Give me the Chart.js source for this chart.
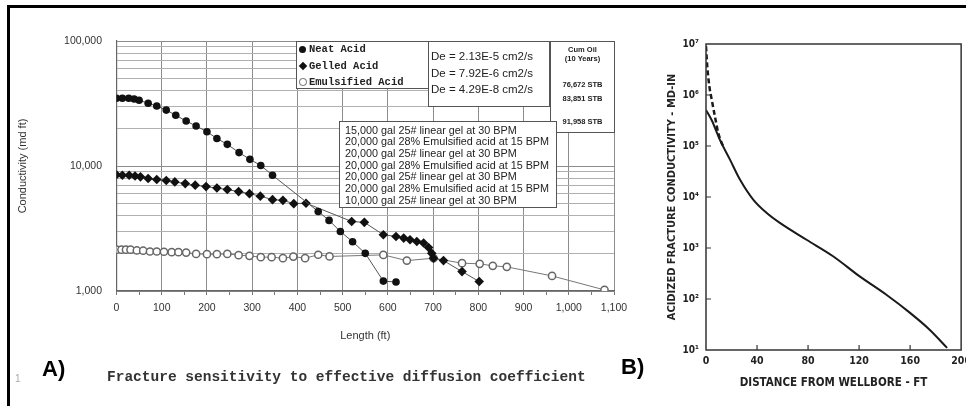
<!DOCTYPE html>
<html>
<head>
<meta charset="utf-8">
<script src="https://cdn.jsdelivr.net/npm/chart.js@4.4.0/dist/chart.umd.min.js"></script>
<style>
  html, body { margin: 0; padding: 0; background: #fff; }
  body { width: 966px; height: 406px; position: relative; overflow: hidden; font-family: "Liberation Sans", Arial, sans-serif; color: #222; }
  #frame { position: absolute; left: 7px; top: 5px; width: 1000px; height: 500px; border: 3px solid #000; }
  #chartA { position: absolute; left: 0; top: 0; }
  #chartB { position: absolute; left: 640px; top: 0; }
  .box { position: absolute; background: #fff; border: 1px solid #555; box-sizing: border-box; }
  .t { position: absolute; white-space: nowrap; line-height: 1; }
  .leg { font-family: "Liberation Mono", "DejaVu Sans Mono", monospace; font-weight: bold; font-size: 10.5px; color: #222; }
  .de { font-size: 11.5px; color: #222; }
  .cum { font-size: 7.5px; font-weight: bold; color: #222; text-align: center; width: 65px; left: 550px; }
  .pump { font-size: 10.8px; color: #222; left: 345px; }
  .mk { position: absolute; box-sizing: border-box; }
  #caption { left: 107px; top: 370px; font-family: "Liberation Mono", "DejaVu Sans Mono", monospace; font-weight: bold; font-size: 14.5px; color: #333; }
  .panel { font-weight: bold; font-size: 22px; color: #000; }
</style>
</head>
<body>
<div id="frame"></div>
<canvas id="chartA" width="640" height="406"></canvas>
<canvas id="chartB" width="336" height="406"></canvas>

<!-- legend -->
<div class="box" style="left:296px; top:41px; width:133px; height:48px;"></div>
<div class="mk" style="left:299px; top:45.5px; width:7px; height:7px; border-radius:50%; background:#111;"></div>
<div class="mk" style="left:299.5px; top:62.5px; width:6px; height:6px; background:#111; transform:rotate(45deg);"></div>
<div class="mk" style="left:299px; top:78px; width:7.5px; height:7.5px; border-radius:50%; border:1.5px solid #666; background:#fff;"></div>
<div class="t leg" style="left:309px; top:43.5px;">Neat Acid</div>
<div class="t leg" style="left:309px; top:60.5px;">Gelled Acid</div>
<div class="t leg" style="left:309px; top:76.5px;">Emulsified Acid</div>

<!-- diffusion coefficients -->
<div class="box" style="left:428px; top:41px; width:122px; height:66px;"></div>
<div class="t de" style="left:431px; top:51px;">De = 2.13E-5 cm2/s</div>
<div class="t de" style="left:431px; top:68px;">De = 7.92E-6 cm2/s</div>
<div class="t de" style="left:431px; top:84px;">De = 4.29E-8 cm2/s</div>

<!-- cumulative oil -->
<div class="box" style="left:550px; top:41px; width:65px; height:92px;"></div>
<div class="t cum" style="top:45.5px;">Cum Oil</div>
<div class="t cum" style="top:55px;">(10 Years)</div>
<div class="t cum" style="top:81px;">76,672 STB</div>
<div class="t cum" style="top:95px;">83,851 STB</div>
<div class="t cum" style="top:117.5px;">91,958 STB</div>

<!-- pumping schedule -->
<div class="box" style="left:339px; top:121px; width:218px; height:87px;"></div>
<div class="t pump" style="top:124.5px;">15,000 gal 25# linear gel at 30 BPM</div>
<div class="t pump" style="top:136.2px;">20,000 gal 28% Emulsified acid at 15 BPM</div>
<div class="t pump" style="top:147.9px;">20,000 gal 25# linear gel at 30 BPM</div>
<div class="t pump" style="top:159.6px;">20,000 gal 28% Emulsified acid at 15 BPM</div>
<div class="t pump" style="top:171.3px;">20,000 gal 25# linear gel at 30 BPM</div>
<div class="t pump" style="top:183px;">20,000 gal 28% Emulsified acid at 15 BPM</div>
<div class="t pump" style="top:194.7px;">10,000 gal 25# linear gel at 30 BPM</div>

<div class="t" style="left:15px; top:374px; font-size:10px; color:#aaa;">1</div>
<div class="t panel" style="left:42px; top:358px;">A)</div>
<div class="t panel" style="left:621px; top:355.5px;">B)</div>
<div class="t" id="caption">Fracture sensitivity to effective diffusion coefficient</div>

<script>
// ---- panel A: conductivity vs fracture length
const neatLength = [0, 13, 27, 39, 50, 70, 89, 110, 131, 154, 176, 200, 222, 245, 271, 295, 319, 345, 446, 470, 495, 522, 550, 590, 618];
const neatCond = [34800, 34800, 34800, 34400, 33600, 31800, 30200, 28000, 25500, 22900, 20900, 18800, 16600, 14900, 12800, 11300, 10100, 8430, 4330, 3670, 2990, 2480, 2000, 1200, 1180];

const gelledLength = [0, 13, 28, 41, 53, 70, 89, 110, 129, 152, 174, 198, 222, 245, 270, 294, 318, 345, 368, 392, 419, 520, 548, 590, 618, 635, 649, 664, 679, 690, 697, 701, 723, 764, 802];
const gelledCond = [8500, 8430, 8430, 8310, 8190, 7940, 7790, 7650, 7460, 7230, 7030, 6840, 6660, 6480, 6240, 6010, 5740, 5380, 5310, 5000, 5040, 3600, 3540, 2820, 2730, 2650, 2570, 2490, 2420, 2230, 2000, 1830, 1750, 1430, 1190];

const emulLength = [0, 11, 21, 31, 45, 59, 74, 89, 105, 122, 137, 154, 176, 200, 222, 245, 270, 294, 319, 343, 368, 391, 417, 446, 471, 590, 642, 701, 764, 803, 832, 863, 963, 1079];
const emulCond = [2140, 2140, 2140, 2140, 2110, 2100, 2070, 2070, 2060, 2045, 2045, 2030, 1980, 1970, 1970, 1980, 1935, 1910, 1865, 1865, 1830, 1885, 1830, 1950, 1890, 1945, 1750, 1830, 1670, 1650, 1590, 1560, 1320, 1020];

const xTicksA = [0, 100, 200, 300, 400, 500, 600, 700, 800, 900, 1000, 1100];
const yTicksA = [1000, 10000, 100000];

// ---- panel B: acidized fracture conductivity vs distance
const distSolid = [0, 4.5, 11, 18.8, 26.6, 37, 47.4, 57.9, 78.8, 99.6, 120.5, 141.4, 159.7, 175.3, 189];
const condSolid = [510000, 320000, 130000, 54000, 22000, 8900, 4900, 3100, 1450, 690, 277, 121, 54, 25, 11];
const distDash = [0, 1, 2.6, 4.5, 7, 9.6, 12.3, 13.5];
const condDash = [9000000, 3600000, 1500000, 810000, 380000, 180000, 115000, 100000];

const xTicksB = [0, 40, 80, 120, 160, 200];
const yTicksB = [10, 100, 1000, 10000, 100000, 1000000, 10000000];
const yTickLabelsB = ["10\u00B9", "10\u00B2", "10\u00B3", "10\u2074", "10\u2075", "10\u2076", "10\u2077"];

function toPoints(xs, ys) {
  return xs.map((x, i) => ({ x: x, y: ys[i] }));
}

const sansA = "'Liberation Sans', Arial, sans-serif";
const narrow = "'Liberation Sans Narrow', 'DejaVu Sans Condensed', 'Liberation Sans', sans-serif";

// log grid lines for panel A (1..9 per decade)
const yGridA = [];
for (let d = 1000; d < 100000; d *= 10) {
  for (let k = 1; k < 10; k++) yGridA.push(d * k);
}
yGridA.push(100000);

new Chart(document.getElementById("chartA"), {
  type: "line",
  data: {
    datasets: [
      {
        label: "Neat Acid",
        data: toPoints(neatLength, neatCond),
        borderColor: "#555",
        borderWidth: 1,
        pointStyle: "circle",
        pointRadius: 3.8,
        pointBackgroundColor: "#111",
        pointBorderColor: "#111",
        pointBorderWidth: 0
      },
      {
        label: "Gelled Acid",
        data: toPoints(gelledLength, gelledCond),
        borderColor: "#555",
        borderWidth: 1,
        pointStyle: "rectRot",
        pointRadius: 4.8,
        pointBackgroundColor: "#111",
        pointBorderColor: "#111",
        pointBorderWidth: 0
      },
      {
        label: "Emulsified Acid",
        data: toPoints(emulLength, emulCond),
        borderColor: "#777",
        borderWidth: 1,
        pointStyle: "circle",
        pointRadius: 3.6,
        pointBackgroundColor: "#fff",
        pointBorderColor: "#666",
        pointBorderWidth: 1.5
      }
    ]
  },
  options: {
    responsive: false,
    animation: false,
    layout: { padding: { left: 0, right: 26, top: 41, bottom: 63 } },
    plugins: { legend: { display: false }, tooltip: { enabled: false } },
    scales: {
      x: {
        type: "linear",
        min: 0,
        max: 1100,
        afterFit: s => { s.height = 52; },
        ticks: {
          stepSize: 50,
          autoSkip: false,
          maxRotation: 0,
          padding: 7,
          color: "#333",
          font: { family: sansA, size: 10.5 },
          callback: v => xTicksA.includes(v) ? v.toLocaleString("en-US") : ""
        },
        grid: {
          color: c => (c.tick && xTicksA.includes(c.tick.value)) ? "#8c8c8c" : "rgba(0,0,0,0)",
          tickColor: "#777",
          tickLength: 4
        },
        border: { display: true, color: "#666", width: 1.2 },
        title: {
          display: true,
          text: "Length (ft)",
          color: "#333",
          font: { family: sansA, size: 11 },
          padding: { top: 0, bottom: 0 }
        }
      },
      y: {
        type: "logarithmic",
        min: 1000,
        max: 100000,
        afterFit: s => { s.width = 116.5; },
        afterBuildTicks: s => { s.ticks = yGridA.map(v => ({ value: v })); },
        ticks: {
          autoSkip: false,
          padding: 14.5,
          color: "#333",
          font: { family: sansA, size: 10.5 },
          callback: v => yTicksA.includes(v) ? v.toLocaleString("en-US") : ""
        },
        grid: {
          drawTicks: false,
          color: c => (c.tick && yTicksA.includes(c.tick.value)) ? "#8c8c8c" : "#b0b0b0"
        },
        border: { display: true, color: "#666", width: 1.2 },
        title: {
          display: true,
          text: "Conductivity (md ft)",
          color: "#333",
          font: { family: sansA, size: 11 },
          padding: { top: 16, bottom: 0 }
        }
      }
    }
  }
});

// frame and inward tick marks for panel B
const frameTicks = {
  id: "frameTicks",
  afterDraw(chart) {
    const { ctx, chartArea: a, scales } = chart;
    ctx.save();
    ctx.strokeStyle = "#333";
    ctx.lineWidth = 1.5;
    ctx.strokeRect(a.left, a.top, a.right - a.left, a.bottom - a.top);
    ctx.lineWidth = 1.2;
    ctx.beginPath();
    scales.x.ticks.forEach(t => {
      const px = scales.x.getPixelForValue(t.value);
      if (px > a.left + 1 && px < a.right - 1) {
        ctx.moveTo(px, a.bottom);
        ctx.lineTo(px, a.bottom - 5);
      }
    });
    scales.y.ticks.forEach(t => {
      const py = scales.y.getPixelForValue(t.value);
      if (py > a.top + 1 && py < a.bottom - 1) {
        ctx.moveTo(a.left, py);
        ctx.lineTo(a.left + 5, py);
      }
    });
    ctx.stroke();
    ctx.restore();
  }
};

new Chart(document.getElementById("chartB"), {
  type: "line",
  data: {
    datasets: [
      {
        label: "solid",
        data: toPoints(distSolid, condSolid),
        borderColor: "#1a1a1a",
        borderWidth: 2,
        pointRadius: 0,
        cubicInterpolationMode: "monotone"
      },
      {
        label: "dashed",
        data: toPoints(distDash, condDash),
        borderColor: "#1a1a1a",
        borderWidth: 2.5,
        borderDash: [5, 3],
        pointRadius: 0,
        cubicInterpolationMode: "monotone"
      }
    ]
  },
  options: {
    responsive: false,
    animation: false,
    layout: { padding: { left: 0, right: 0, top: 44, bottom: 16 } },
    plugins: { legend: { display: false }, tooltip: { enabled: false } },
    scales: {
      x: {
        type: "linear",
        min: 0,
        max: 200,
        afterFit: s => { s.height = 40; },
        afterBuildTicks: s => { s.ticks = xTicksB.map(v => ({ value: v })); },
        ticks: {
          autoSkip: false,
          maxRotation: 0,
          padding: 5,
          color: "#222",
          font: { family: narrow, size: 10.5, weight: "bold" }
        },
        grid: { drawOnChartArea: false, drawTicks: false },
        border: { display: false },
        title: {
          display: true,
          text: "DISTANCE FROM WELLBORE - FT",
          color: "#222",
          font: { family: narrow, size: 11.5, weight: "bold" },
          padding: { top: 0, bottom: 0 }
        }
      },
      y: {
        type: "logarithmic",
        min: 10,
        max: 10000000,
        afterFit: s => { s.width = 66; },
        afterBuildTicks: s => { s.ticks = yTicksB.map(v => ({ value: v })); },
        ticks: {
          autoSkip: false,
          padding: 7,
          color: "#222",
          font: { family: narrow, size: 10, weight: "bold" },
          callback: v => yTickLabelsB[yTicksB.indexOf(v)]
        },
        grid: { drawOnChartArea: false, drawTicks: false },
        border: { display: false },
        title: {
          display: true,
          text: "ACIDIZED FRACTURE CONDUCTIVITY - MD-IN",
          color: "#222",
          font: { family: narrow, size: 11, weight: "bold" },
          padding: { top: 26, bottom: 0 }
        }
      }
    }
  },
  plugins: [frameTicks]
});
</script>
</body>
</html>
